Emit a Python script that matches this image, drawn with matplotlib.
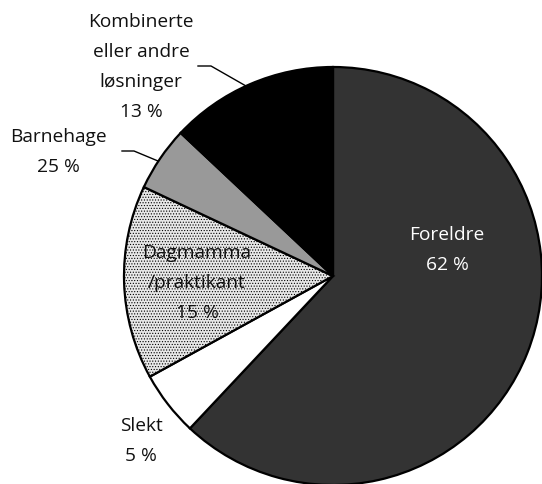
import matplotlib.pyplot as plt

# Data
labels = ["Foreldre", "Slekt", "Dagmamma\n/praktikant", "Barnehage", "Kombinerte\neller andre\nløsninger"]
values = [62, 5, 15, 5, 13]
label_pct = ["62 %", "5 %", "15 %", "25 %", "13 %"]
colors = ["#333333", "#ffffff", "#e8e8e8", "#999999", "#000000"]
text_colors = ["white", "#111111", "#111111", "#111111", "#111111"]

plt.rcParams["hatch.color"] = "#cdcdcd"
plt.rcParams["hatch.linewidth"] = 0.5

W, H = 542, 485
fig = plt.figure(figsize=(W / 100, H / 100), dpi=100)
ax = fig.add_axes([0, 0, 1, 1])

cx, cy, r = 333, H - 277, 209
wedges, _ = ax.pie(values, colors=colors, startangle=90, counterclock=False,
                   center=(cx, cy), radius=r, frame=True,
                   wedgeprops=dict(edgecolor="black", linewidth=1.6))
ax.set_xlim(0, W)
ax.set_ylim(0, H)
ax.set_aspect("equal")
ax.axis("off")
wedges[2].set_hatch("......")

# label positions in pixel coordinates (x, y from top)
pos = [(447, 250), (141, 441), (197, 283), (58, 152), (141, 67)]
for lab, pct, (x, y), tc in zip(labels, label_pct, pos, text_colors):
    ax.text(x, H - y, lab + "\n" + pct, family=["Open Sans", "DejaVu Sans"],
            fontsize=13.8, color=tc, ha="center", va="center", linespacing=1.85)

# leader lines
ax.plot([198, 211, 246], [H - 67, H - 67, H - 87], color="black", lw=1)
ax.plot([122, 134, 158], [H - 152, H - 152, H - 162], color="black", lw=1)

fig.savefig("out.png", dpi=100)
